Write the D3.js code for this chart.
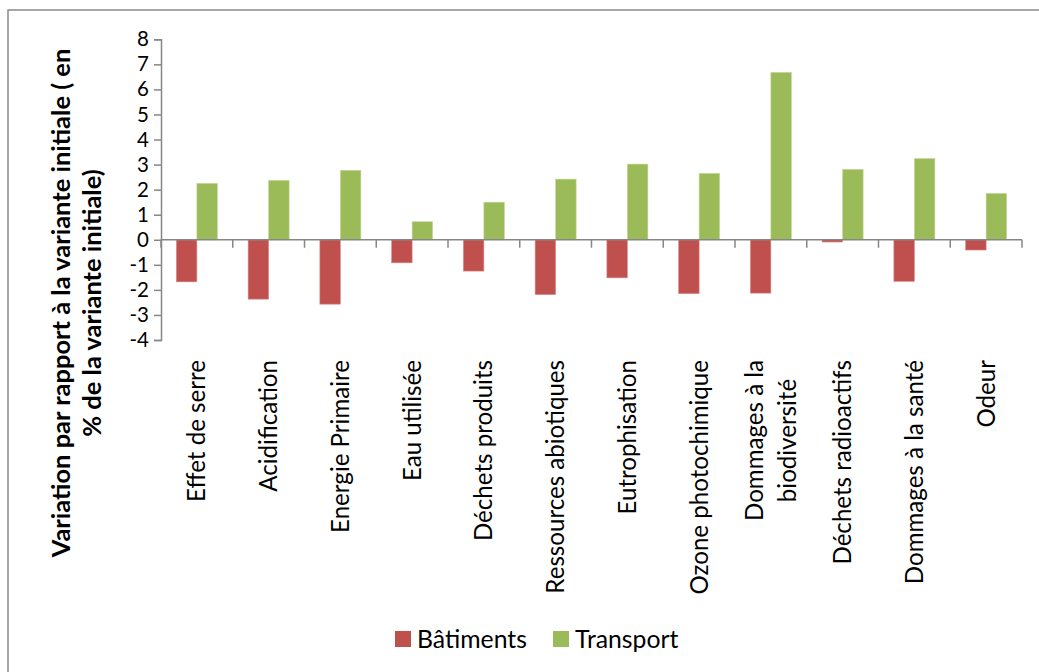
<!DOCTYPE html>
<html><head><meta charset="utf-8">
<script src="https://cdn.jsdelivr.net/npm/d3@7"></script>
<style>html,body{margin:0;padding:0;background:#fff;} svg{display:block;}</style>
</head><body>
<svg id="chart" width="1039" height="672"></svg>
<script>
const categories = [["Effet de serre"],["Acidification"],["Energie Primaire"],["Eau utilisée"],["Déchets produits"],["Ressources abiotiques"],["Eutrophisation"],["Ozone photochimique"],["Dommages à la","biodiversité"],["Déchets radioactifs"],["Dommages à la santé"],["Odeur"]];
const batiments = [-1.68,-2.37,-2.57,-0.92,-1.25,-2.19,-1.52,-2.15,-2.13,-0.09,-1.66,-0.41];
const transport = [2.25,2.37,2.77,0.72,1.50,2.42,3.02,2.65,6.68,2.81,3.24,1.85];
const seriesNames = ["Bâtiments","Transport"];
const seriesColors = ["#C0504D","#9BBB59"];
const yTicks = [-4,-3,-2,-1,0,1,2,3,4,5,6,7,8];
const yTitle = ["Variation par rapport à la variante initiale ( en","% de la variante initiale)"];

const FONT = "Lato, 'Open Sans', sans-serif";
const svg = d3.select("#chart");

function fitSize(text, weight, target){
  const t = svg.append("text").attr("font-family",FONT).attr("font-weight",weight).attr("font-size",20).text(text);
  const w = t.node().getComputedTextLength(); t.remove();
  return 20*target/w;
}
const labelSize = fitSize("Effet de serre","normal",142);
const titleSize = fitSize(yTitle[0],"bold",509);
const legendSize = fitSize("Bâtiments","normal",110);

// outer border
svg.append("rect").attr("x",8).attr("y",10).attr("width",1100).attr("height",700)
  .attr("fill","none").attr("stroke","#8a8a8a").attr("stroke-width",1.5);

const keys = categories.map(c=>c.join(" "));
const x0 = d3.scaleBand().domain(keys).range([161,1022]).padding(0);
const x1 = d3.scaleBand().domain(seriesNames).range([0,x0.bandwidth()]).paddingInner(0).paddingOuter(0.75);
const y = d3.scaleLinear().domain([-4,8]).range([340,39.3]);

const data = keys.map((k,i)=>({k, vals:[batiments[i],transport[i]]}));

// bars
const g = svg.append("g");
data.forEach(d=>{
  d.vals.forEach((v,j)=>{
    g.append("rect")
      .attr("x",x0(d.k)+x1(seriesNames[j]))
      .attr("width",x1.bandwidth())
      .attr("y",y(Math.max(0,v)))
      .attr("height",Math.abs(y(v)-y(0)))
      .attr("fill",seriesColors[j])
      .attr("stroke",j===0?"#d98c8a":"#c4d89a").attr("stroke-width",0.6);
  });
});

// y axis
const yAxis = d3.axisLeft(y).tickValues(yTicks).tickSize(7).tickPadding(5).tickFormat(d3.format("d"));
const ya = svg.append("g").attr("transform","translate(161,0)").call(yAxis);
ya.select(".domain").attr("stroke","#868686").attr("stroke-width",1.5);
ya.selectAll(".tick line").attr("stroke","#868686").attr("stroke-width",1.5);
ya.selectAll(".tick text").attr("font-family",FONT).attr("font-size",20.5).attr("fill","#000")
  .text(d=>d<0?"-"+Math.abs(d):d);

// x axis at zero
svg.append("line").attr("x1",161).attr("x2",1022).attr("y1",y(0)).attr("y2",y(0))
  .attr("stroke","#868686").attr("stroke-width",1.5);
const bounds = keys.map(k=>x0(k)).concat([x0.range()[1]]);
svg.selectAll(".ctick").data(bounds).enter().append("line")
  .attr("x1",d=>d).attr("x2",d=>d).attr("y1",y(0)).attr("y2",y(0)+8)
  .attr("stroke","#868686").attr("stroke-width",1.5);

// category labels
const lineGap = 33;
categories.forEach((lines,i)=>{
  const cx = x0(keys[i]) + x0.bandwidth()/2;
  const n = lines.length;
  const t = svg.append("text").attr("font-family",FONT).attr("font-size",labelSize).attr("fill","#000")
    .attr("transform",`translate(${cx},360) rotate(-90)`);
  const widths = lines.map(s=>{const tt=svg.append("text").attr("font-family",FONT).attr("font-size",labelSize).text(s);const w=tt.node().getComputedTextLength();tt.remove();return w;});
  const maxW = d3.max(widths);
  lines.forEach((s,j)=>{
    t.append("tspan").attr("x",-maxW/2).attr("text-anchor","middle")
      .attr("y",(j-(n-1)/2)*lineGap).attr("dy","0.35em").text(s);
  });
});

// y title
yTitle.forEach((s,j)=>{
  svg.append("text").attr("font-family",FONT).attr("font-weight","bold").attr("font-size",titleSize)
    .attr("text-anchor","middle").attr("fill","#000")
    .attr("transform",`translate(${61+j*31},303) rotate(-90)`).attr("dy","0.35em").text(s);
});

// legend
const legX = [395,553];
seriesNames.forEach((s,j)=>{
  svg.append("rect").attr("x",legX[j]).attr("y",631).attr("width",16).attr("height",16).attr("fill",seriesColors[j]);
  svg.append("text").attr("x",legX[j]+22).attr("y",639).attr("dy","0.35em")
    .attr("font-family",FONT).attr("font-size",legendSize).attr("fill","#000").text(s);
});
</script>
</body></html>
